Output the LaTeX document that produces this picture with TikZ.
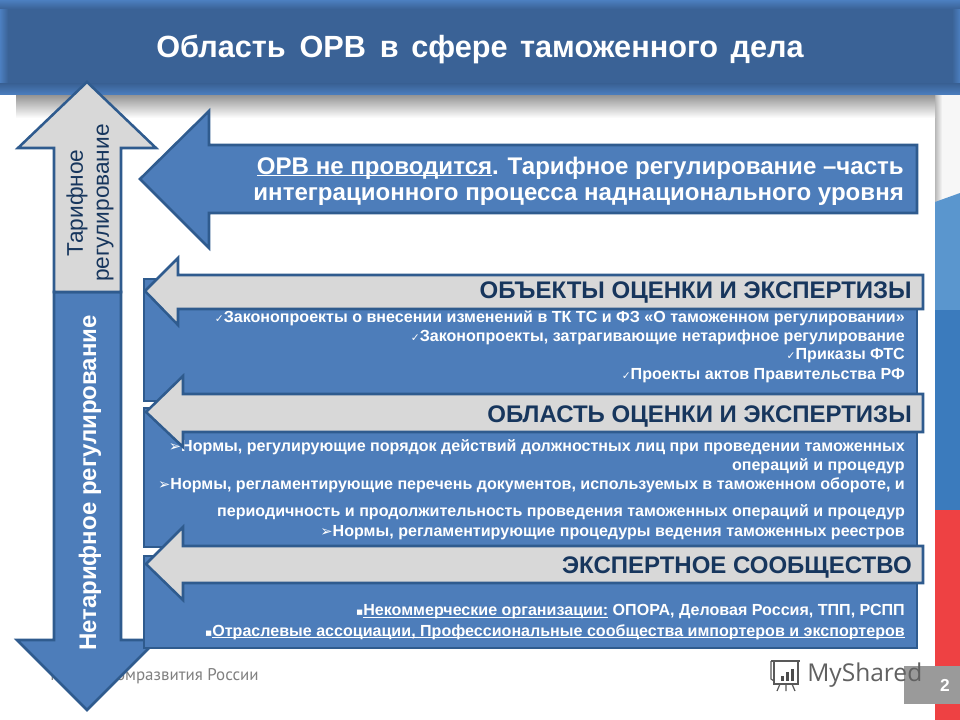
\documentclass[tikz,border=0pt]{standalone}
\usepackage{fontspec}
\setmainfont{Liberation Sans}
\newfontfamily\symfont{DejaVu Sans}
\newfontfamily\footfont{PT Sans}
\newfontfamily\logofont{Open Sans}
\usetikzlibrary{calc}
\definecolor{boxblue}{HTML}{4D7DBA}
\definecolor{edgeblue}{HTML}{2F5B8E}
\definecolor{headblue}{HTML}{3A6296}
\definecolor{headlight}{HTML}{4C7FC0}
\definecolor{barsilver}{HTML}{D8D8D8}
\definecolor{navy}{HTML}{17365D}
\definecolor{stripblue}{HTML}{3B7BBD}
\definecolor{stripsky}{HTML}{5A96CE}
\definecolor{stripred}{HTML}{EE4143}
\definecolor{numgrey}{HTML}{9A9A9A}
\newcommand{\chk}{{\symfont\fontsize{8}{8}\selectfont ✓}}
\newcommand{\tip}{{\symfont\fontsize{11}{10}\selectfont ➢}}
\newcommand{\sq}{{\symfont\fontsize{8}{8}\selectfont ▪}}
\newsavebox{\ulbox}
\newcommand{\ulined}[1]{\sbox{\ulbox}{#1}\rlap{\rule[-1.4pt]{\wd\ulbox}{0.7pt}}\usebox{\ulbox}}
\tikzset{
  x=0.75pt,y=-0.75pt,
  bluefill/.style={fill=boxblue,draw=edgeblue,line width=1.9pt,line join=miter},
  greyfill/.style={fill=barsilver,draw=edgeblue,line width=1.9pt,line join=miter},
  listline/.style={anchor=east,inner sep=0,text=white,font=\bfseries\fontsize{12.05}{14}\selectfont},
  barlabel/.style={anchor=east,inner sep=0,text=navy,font=\bfseries\fontsize{18}{20}\selectfont},
  leadline/.style={anchor=east,inner sep=0,text=white,font=\bfseries\fontsize{18.05}{20}\selectfont},
}
\begin{document}
\begin{tikzpicture}
\useasboundingbox (0,0) rectangle (960,720);
\fill[white] (0,0) rectangle (960,720);
% right strip
\fill[black!3] (935,95) rectangle (960,202);
\shade[left color=black!28,right color=black!3] (935,95) rectangle (942,202);
\fill[stripsky] (935,202) -- (960,193) -- (960,310) -- (935,310) -- cycle;
\fill[stripblue] (935,310) rectangle (960,510);
\fill[stripred] (935,510) rectangle (960,720);
% header shadow
\shade[top color=black!42,bottom color=white] (16,95) rectangle (935,118);
% header
\fill[headblue] (0,0) rectangle (960,95);
\shade[left color=headlight,right color=headblue] (0,0) rectangle (8,95);
\shade[left color=headblue,right color=headlight] (952,0) rectangle (960,95);
\shade[top color=headlight,bottom color=headblue] (0,0) rectangle (960,9);
\shade[top color=headblue,bottom color=headlight] (0,84) rectangle (960,95);
\node[inner sep=0,text=white,font=\bfseries\fontsize{23}{26}\selectfont] (title) at (480,49) {Область\hspace{4pt} ОРВ\hspace{4pt} в\hspace{3pt} сфере\hspace{3pt} таможенного\hspace{3pt} дела};
% footer
\node[anchor=west,inner sep=0,text=black!50,font=\footfont\fontsize{12.7}{14}\selectfont] (footer) at (50,676) {Минэкономразвития России};
% number tab
\fill[numgrey] (904,666) rectangle (960,704);
\node[inner sep=0,text=white,font=\bfseries\fontsize{13}{15}\selectfont] (num) at (945,685) {2};
% logo
\begin{scope}[draw=black!65,line width=0.9pt]
\draw[line width=1.3pt] (771,661) -- (800,661);
\draw (774,661) -- (774,684) -- (798,684) -- (798,661);
\draw (771,661) -- (771,679) -- (774,681);
\fill[black!70] (781,676) rectangle (784,681);
\fill[black!70] (786,672) rectangle (789,681);
\fill[black!70] (791,669) rectangle (794,681);
\draw (780,684) -- (777,691) (786,684) -- (786,691) (792,684) -- (795,691);
\end{scope}
\node[anchor=west,inner sep=0,text=black!62,font=\logofont\fontsize{18.4}{22}\selectfont] (logo) at (807,675) {MyShared};
% down arrow
\draw[bluefill] (54,292) -- (121,292) -- (121,640) -- (157,640) -- (87,710) -- (17,640) -- (54,640) -- cycle;
% up arrow
\draw[greyfill] (54,292) -- (54,148) -- (18,148) -- (87,82) -- (156,148) -- (121,148) -- (121,292) -- cycle;
\node[rotate=90,inner sep=0,align=center,text=navy,font=\fontsize{17}{19.5}\selectfont] (tarif) at (90,203) {Тарифное\\регулирование};
\node[rotate=90,inner sep=0,text=white,font=\bfseries\fontsize{18}{20}\selectfont] (netarif) at (90,483) {Нетарифное регулирование};
% top arrow
\draw[bluefill] (917,145) -- (209,145) -- (209,111) -- (140,179) -- (209,248) -- (209,213) -- (917,213) -- cycle;
\node[leadline] (lead1) at (904,168) {\ulined{ОРВ не проводится}. Тарифное регулирование –часть};
\node[leadline] (lead2) at (904,197) {интеграционного процесса наднационального уровня};
% content boxes
\draw[bluefill] (144,279) rectangle (917,401);
\draw[bluefill] (144,408) rectangle (917,547);
\draw[bluefill] (144,556) rectangle (917,648);
% list 1
\node[listline] (a1) at (905,318) {\chk Законопроекты о внесении изменений в ТК ТС и ФЗ «О таможенном регулировании»};
\node[listline] (a2) at (905,337) {\chk Законопроекты, затрагивающие нетарифное регулирование};
\node[listline] (a3) at (905,356) {\chk Приказы ФТС};
\node[listline] (a4) at (905,376) {\chk Проекты актов Правительства РФ};
% list 2
\node[listline] (c1) at (905,447) {\tip Нормы, регулирующие порядок действий должностных лиц при проведении таможенных};
\node[listline] (c2) at (905,466) {операций и процедур};
\node[listline] (c3) at (905,485) {\tip Нормы, регламентирующие перечень документов, используемых в таможенном обороте, и};
\node[listline] (c4) at (905,512) {периодичность и продолжительность проведения таможенных операций и процедур};
\node[listline] (c5) at (905,533) {\tip Нормы, регламентирующие процедуры ведения таможенных реестров};
% list 3
\node[listline] (d1) at (905,612) {\sq\ulined{Некоммерческие организации:} ОПОРА, Деловая Россия, ТПП, РСПП};
\node[listline] (d2) at (905,632) {\sq\ulined{Отраслевые ассоциации, Профессиональные сообщества импортеров и экспортеров}};
% grey arrows
\draw[greyfill] (923,275) -- (178,275) -- (178,258) -- (145,291) -- (178,325) -- (178,309) -- (923,309) -- cycle;
\draw[greyfill] (923,394) -- (183,394) -- (183,376) -- (146,412) -- (183,447) -- (183,432) -- (923,432) -- cycle;
\draw[greyfill] (923,546) -- (183,546) -- (183,527) -- (146,564) -- (183,600) -- (183,583) -- (923,583) -- cycle;
\node[barlabel] (b1) at (912,293) {ОБЪЕКТЫ ОЦЕНКИ И ЭКСПЕРТИЗЫ};
\node[barlabel] (b2) at (912,417) {ОБЛАСТЬ ОЦЕНКИ И ЭКСПЕРТИЗЫ};
\node[barlabel] (b3) at (912,568) {ЭКСПЕРТНОЕ СООБЩЕСТВО};
\end{tikzpicture}
\end{document}
